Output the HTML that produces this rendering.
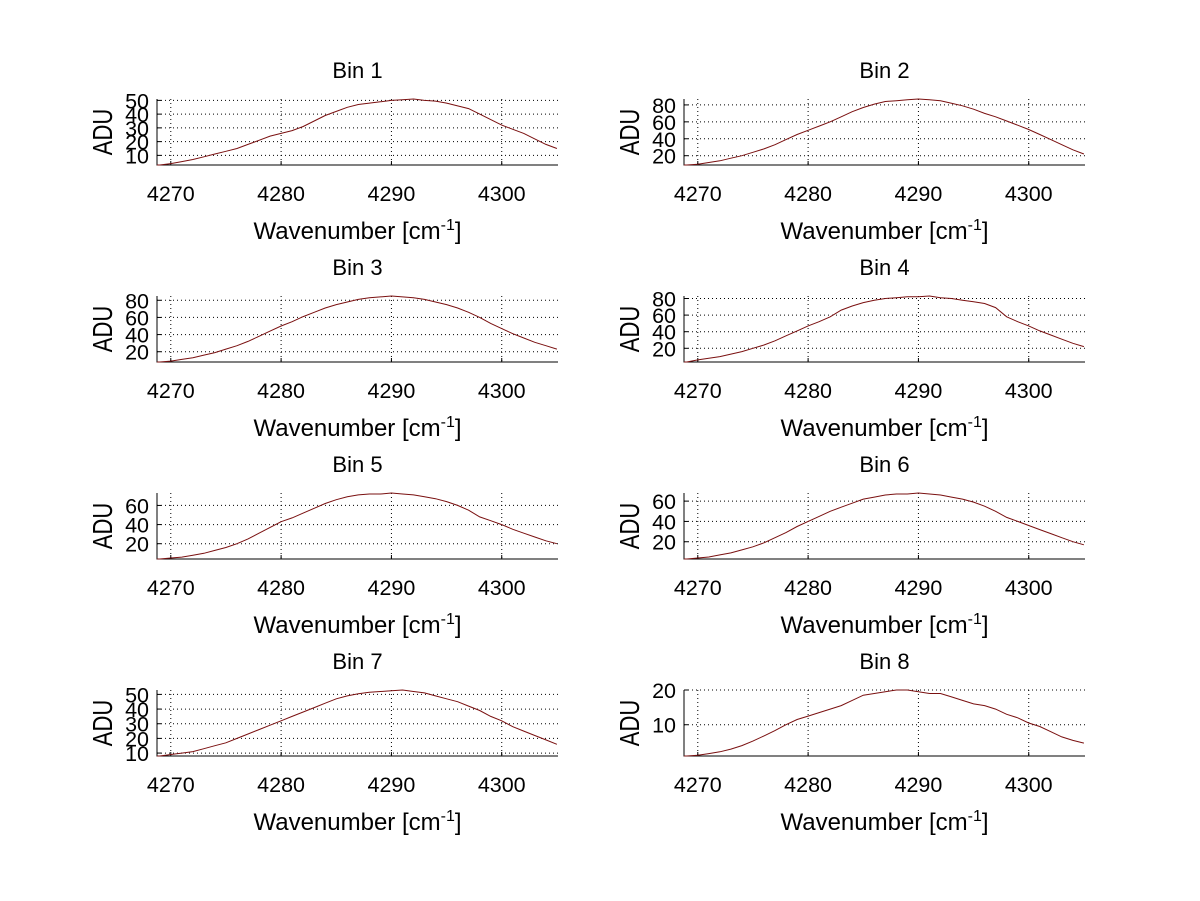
<!DOCTYPE html>
<html><head><meta charset="utf-8"><style>
html,body{margin:0;padding:0;background:#fff;}
svg{display:block;font-family:"Liberation Sans",sans-serif;}
</style></head><body>
<svg id="fig" width="1200" height="901" viewBox="0 0 1200 901"></svg>
<script>
const wavenumbers = [4269,4270,4271,4272,4273,4274,4275,4276,4277,4278,4279,4280,4281,4282,4283,4284,4285,4286,4287,4288,4289,4290,4291,4292,4293,4294,4295,4296,4297,4298,4299,4300,4301,4302,4303,4304,4305];
const bin1 = [3,4,5.5,7,9,11,13,15,18,21,24,26,28,31,35,39,42,45,47,48,49,50,50.5,51,50,49.5,48,46,44,40,36,32,29,26,22,18,15];
const bin2 = [9,10,12,14,17,20,24,28,33,39,45,50,55,60,66,72,77,81,84,85,86,87,86,85,82,79,75,70,66,61,56,51,45,39,33,27,22];
const bin3 = [8,9,11,13,16,19,23,27,32,38,44,50,55,61,66,71,75,78,81,83,84,85,84,83,81,78,75,71,66,60,53,47,41,36,31,27,23];
const bin4 = [3.5,6,8,10,13,16,20,24,29,35,41,47,52,58,66,71,75,78,80,81,82,82,83,81,80,78,76,74,69,58,52,47,41,36,31,26,22];
const bin5 = [4,5,6,8,10,13,16,20,25,31,37,43,47,52,57,62,66,69,71,72,72,73,72,71,69,67,64,60,55,48,44,40,35,31,27,23,20];
const bin6 = [3,4,5,7,9,12,15,19,24,29,35,40,45,50,54,58,62,64,66,67,67,68,67,66,64,62,59,55,50,44,40,36,32,28,24,20,17];
const bin7 = [8,9,10,11,13,15,17,20,23,26,29,32,35,38,41,44,47,49,50.5,51.5,52,52.5,53,52,51,49,47,45,42,39,35,32,28,25,22,19,16];
const bin8 = [1,1.2,1.7,2.2,3,4,5.3,6.8,8.3,10,11.5,12.5,13.5,14.5,15.5,17,18.5,19,19.5,20,20,19.5,19,19,18,17,16,15.5,14.5,13,12,10.5,9.5,8,6.5,5.5,4.7];
const binTitles = ["Bin 1","Bin 2","Bin 3","Bin 4","Bin 5","Bin 6","Bin 7","Bin 8"];
const xTicks = [4270,4280,4290,4300];
const yTicks1 = [10,20,30,40,50];
const yTicks2 = [20,40,60,80];
const yTicks3 = [20,40,60,80];
const yTicks4 = [20,40,60,80];
const yTicks5 = [20,40,60];
const yTicks6 = [20,40,60];
const yTicks7 = [10,20,30,40,50];
const yTicks8 = [10,20];

const series=[bin1,bin2,bin3,bin4,bin5,bin6,bin7,bin8];
const ticksets=[yTicks1,yTicks2,yTicks3,yTicks4,yTicks5,yTicks6,yTicks7,yTicks8];
const NS="http://www.w3.org/2000/svg";
const svg=document.getElementById('fig');
function mk(tag,attrs,parent){const e=document.createElementNS(NS,tag);for(const k in attrs)e.setAttribute(k,attrs[k]);(parent||svg).appendChild(e);return e;}
const colL=[157,558], colR=[684,1085];
const tops=[99,296,493,690], h=66;
const xMin=4268.75, xMax=4305.1;
for(let i=0;i<8;i++){
  const col=i%2===0?colL:colR, row=Math.floor(i/2);
  const x0=col[0],x1=col[1],y0=tops[row],y1=tops[row]+h;
  const data=series[i];
  const yMin=Math.min(...data), yMax=Math.max(...data);
  const sx=v=>x0+(v-xMin)/(xMax-xMin)*(x1-x0);
  const sy=v=>y1-(v-yMin)/(yMax-yMin)*(y1-y0);
  const g=mk('g',{});
  
  
  const t=mk('text',{x:(x0+x1)/2,y:y0-21,'text-anchor':'middle','font-size':22,fill:'#000'},g);
  t.textContent=binTitles[i];
  
  
  xTicks.forEach(v=>{
    const X=sx(v);
    const gl=mk('line',{x1:X,x2:X,y1:y0,y2:y1,stroke:'#000','stroke-width':1,'stroke-dasharray':'1,3'},g);
    
    
    mk('line',{x1:X,x2:X,y1:y1,y2:y1-4,stroke:'#000'},g);
    const tl=mk('text',{x:X,y:y1+36,'text-anchor':'middle','font-size':21.5,fill:'#000'},g);
    tl.textContent=v;
    
    
  });
  ticksets[i].forEach(v=>{
    const Y=sy(v);
    const gl=mk('line',{x1:x0,x2:x1,y1:Y,y2:Y,stroke:'#000','stroke-width':1,'stroke-dasharray':'1,3'},g);
    
    
    mk('line',{x1:x0,x2:x0+4,y1:Y,y2:Y,stroke:'#000'},g);
    const tl=mk('text',{x:x0-8,y:Y+8,'text-anchor':'end','font-size':21.5,fill:'#000'},g);
    tl.textContent=v;
    
    
  });
  const ax=mk('path',{d:`M${x0},${y0}V${y1}H${x1}`,fill:'none',stroke:'#000','stroke-width':1},g);
  
  
  const pts=data.map((v,k)=>sx(wavenumbers[k]).toFixed(1)+','+sy(v).toFixed(1)).join(' ');
  const pl=mk('polyline',{points:sx(xMin)+','+sy(data[0])+' '+pts,fill:'none',stroke:'#7a1010','stroke-width':1},g);
  
  
  const xl=mk('text',{x:(x0+x1)/2,y:y1+74,'text-anchor':'middle','font-size':24,fill:'#000'},g);
  xl.innerHTML='Wavenumber [cm<tspan dy="-9" font-size="16">-1</tspan><tspan dy="9">]</tspan>';
  
  
  const yx=x0-45, yy=(y0+y1)/2;
  const yl=mk('text',{x:0,y:0,'text-anchor':'middle','font-size':22,fill:'#000',transform:`translate(${yx} ${yy}) rotate(-90) scale(1,1.25)`},g);
  yl.textContent='ADU';
  
  
}
</script>
</body></html>
